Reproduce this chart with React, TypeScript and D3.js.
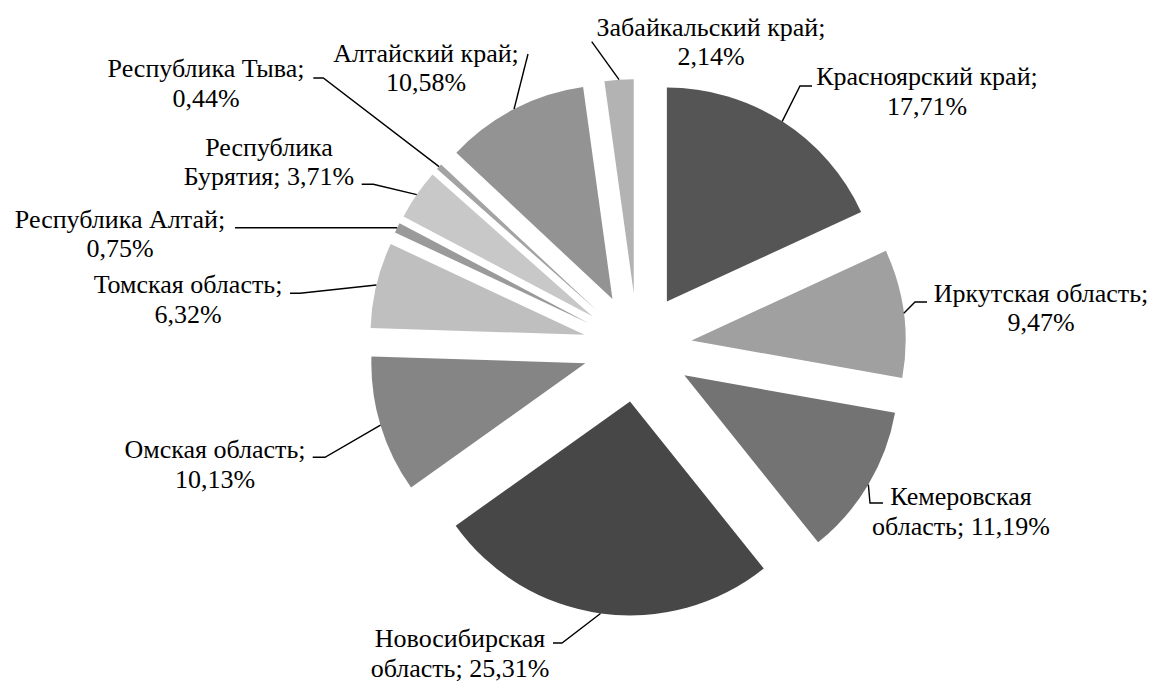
import React from "react";
import * as d3 from "d3";

// ---- data ----
const regions = [
  "Красноярский край",
  "Иркутская область",
  "Кемеровская область",
  "Новосибирская область",
  "Омская область",
  "Томская область",
  "Республика Алтай",
  "Республика Бурятия",
  "Республика Тыва",
  "Алтайский край",
  "Забайкальский край",
];
const shares = [17.71, 9.47, 11.19, 25.31, 10.13, 6.32, 0.75, 3.71, 0.44, 10.58, 2.14];
const labelLines = [
  ["Красноярский край;", "17,71%"],
  ["Иркутская область;", "9,47%"],
  ["Кемеровская", "область; 11,19%"],
  ["Новосибирская", "область; 25,31%"],
  ["Омская область;", "10,13%"],
  ["Томская область;", "6,32%"],
  ["Республика Алтай;", "0,75%"],
  ["Республика", "Бурятия; 3,71%"],
  ["Республика Тыва;", "0,44%"],
  ["Алтайский край;", "10,58%"],
  ["Забайкальский край;", "2,14%"],
];

// ---- styling / layout ----
const colors = [
  "#555555", "#a0a0a0", "#737373", "#474747", "#858585", "#bfbfbf",
  "#9a9a9a", "#c8c8c8", "#a3a3a3", "#939393", "#b3b3b3",
];
// label: text centre x, first baseline y; leader: elbow point then end point
const labelLayout = [
  { x: 927, y: 85, elbow: [800, 86], end: [812, 86] },
  { x: 1041, y: 301.5, elbow: [915, 302], end: [927, 302] },
  { x: 961, y: 505, elbow: [870, 503], end: [883, 503] },
  { x: 460, y: 647, elbow: [562, 643], end: [553, 643] },
  { x: 215, y: 458.3, elbow: [325, 457.3], end: [312.7, 457.3] },
  { x: 188, y: 293.3, elbow: [300, 293.3], end: [290, 293.3] },
  { x: 120, y: 227.7, elbow: [240, 227.7], end: [235, 227.7] },
  { x: 269, y: 155.7, elbow: [373.3, 184.3], end: [361.7, 184.3] },
  { x: 206, y: 77, elbow: [323.3, 78], end: [313.3, 78] },
  { x: 426, y: 61.5, elbow: [528, 54], end: [528, 54] },
  { x: 711, y: 35.7, elbow: [591.7, 41.7], end: [591.7, 41.7] },
];

const W = 1154;
const H = 682;
const cx = 637.5;
const cy = 347.5;
const R = 214;
const explode = 54.5;
const lineGap = 29.5;

export default function App() {
  const pie = d3.pie<number>().value((d) => d).sort(null);
  const arcs = pie(shares);
  const arcGen = d3.arc<d3.PieArcDatum<number>>().innerRadius(0).outerRadius(R);

  return (
    <svg
      width={W}
      height={H}
      style={{
        position: "absolute",
        left: 0,
        top: 0,
        background: "#fff",
        fontFamily: "Liberation Serif, DejaVu Serif, Times New Roman, serif",
        fontSize: 26,
      }}
    >
      {arcs.map((a, i) => {
        const mid = (a.startAngle + a.endAngle) / 2;
        const ox = cx + explode * Math.sin(mid);
        const oy = cy - explode * Math.cos(mid);
        const px = ox + R * Math.sin(mid);
        const py = oy - R * Math.cos(mid);
        const L = labelLayout[i];
        const pts = [[px, py], L.elbow, L.end];
        return (
          <g key={regions[i]}>
            <path d={arcGen(a) || ""} transform={`translate(${ox},${oy})`} fill={colors[i]} />
            <path
              d={d3.line()(pts as [number, number][]) || ""}
              fill="none"
              stroke="#000"
              strokeWidth={1.4}
            />
          </g>
        );
      })}
      {labelLines.map((lines, i) => (
        <text
          key={i}
          textAnchor="middle"
          fill="#000"
          style={{ fontFamily: "Liberation Serif, DejaVu Serif, serif", fontSize: 26 }}
        >
          {lines.map((t, j) => (
            <tspan key={j} x={labelLayout[i].x} y={labelLayout[i].y + j * lineGap}>
              {t}
            </tspan>
          ))}
        </text>
      ))}
    </svg>
  );
}
